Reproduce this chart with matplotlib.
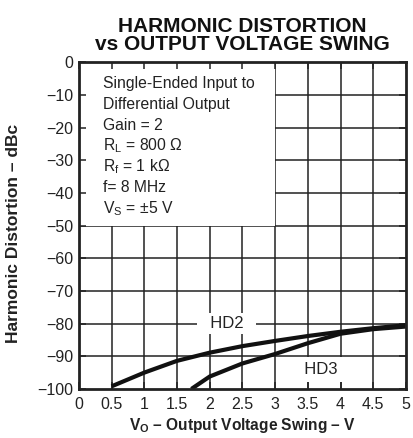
import matplotlib.pyplot as plt
from matplotlib.patches import Rectangle

plt.rcParams['font.family'] = ['Liberation Sans', 'DejaVu Sans']
plt.rcParams['mathtext.fontset'] = 'custom'
plt.rcParams['mathtext.rm'] = 'Liberation Sans'
plt.rcParams['mathtext.bf'] = 'Liberation Sans:bold'

# data
hd2_v = [0.5, 1.0, 1.5, 2.0, 2.5, 3.0, 3.5, 4.0, 4.5, 5.0]
hd2_db = [-99.2, -95.0, -91.4, -88.9, -86.9, -85.3, -83.8, -82.5, -81.4, -80.5]
hd3_v = [1.72, 2.0, 2.5, 3.0, 3.5, 4.0, 4.5, 5.0]
hd3_db = [-100.0, -96.2, -92.2, -89.3, -86.0, -83.1, -81.7, -80.9]

x_ticks = [0, 0.5, 1, 1.5, 2, 2.5, 3, 3.5, 4, 4.5, 5]
x_labels = ['0', '0.5', '1', '1.5', '2', '2.5', '3', '3.5', '4', '4.5', '5']
y_ticks = list(range(0, -101, -10))
y_labels = ['0'] + ['\u2212%d' % (-t) for t in y_ticks[1:]]

notes = ['Single-Ended Input to', 'Differential Output', 'Gain = 2',
         r'R$_\mathregular{L}$ = 800 $\Omega$', r'R$_\mathregular{f}$ = 1 k$\Omega$',
         'f= 8 MHz', r'V$_\mathregular{S}$ = $\pm$5 V']

fig = plt.figure(figsize=(4.13, 4.38), dpi=100)
ax = fig.add_axes([0.191, 0.112, 0.792, 0.746])
ax.set_xlim(0, 5)
ax.set_ylim(-100, 0)

# grid drawn by hand so the white boxes can sit on top of it
for xv in x_ticks[1:-1]:
    ax.axvline(xv, color='#222222', lw=1.1, zorder=1)
for yv in y_ticks[1:-1]:
    ax.axhline(yv, color='#222222', lw=1.1, zorder=1)

# white panel for the conditions text
ax.add_patch(Rectangle((0, -50), 3, 50, facecolor='white', edgecolor='none', zorder=1.5))

ax.plot(hd2_v, hd2_db, color='#111111', lw=3, zorder=3, solid_capstyle='butt')
ax.plot(hd3_v, hd3_db, color='#111111', lw=3, zorder=3, solid_capstyle='butt')

ax.text(2.26, -80, '  HD2  ', fontsize=12, ha='center', va='center', zorder=4,
        color='#222222', bbox=dict(boxstyle='square,pad=0.2', fc='white', ec='none'))
ax.text(3.7, -93.9, '  HD3  ', fontsize=12, ha='center', va='center', zorder=4,
        color='#222222', bbox=dict(boxstyle='square,pad=0.3', fc='white', ec='none'))

for i, line in enumerate(notes):
    ax.text(0.37, -6.4 - i * 6.42, line, fontsize=11.3, ha='left', va='center',
            color='#222222', zorder=4)

ax.set_xticks(x_ticks)
ax.set_xticklabels(x_labels, fontsize=11.5)
ax.set_yticks(y_ticks)
ax.set_yticklabels(y_labels, fontsize=11.5)
ax.tick_params(direction='in', length=5, width=1.1, color='#222222', labelcolor='#222222',
               top=True, right=True)
ax.tick_params(axis='x', pad=6)
ax.tick_params(axis='y', pad=4)
ax.set_axisbelow(False)
for s in ax.spines.values():
    s.set_linewidth(2)
    s.set_color('#222222')
    s.set_zorder(5)

ax.set_title('HARMONIC DISTORTION\nvs OUTPUT VOLTAGE SWING', fontsize=15,
             fontweight='bold', linespacing=0.92, pad=9, color='#111111')
ax.set_xlabel(r'V$_\mathbf{O}$' + ' \u2013 Output Voltage Swing \u2013 V',
              fontsize=11.2, fontweight='bold', labelpad=3, color='#222222')
ax.set_ylabel('Harmonic Distortion \u2013 dBc', fontsize=12.5, fontweight='bold',
              color='#222222')
ax.yaxis.set_label_coords(-0.177, 0.477)

fig.savefig('out.png', dpi=100)
